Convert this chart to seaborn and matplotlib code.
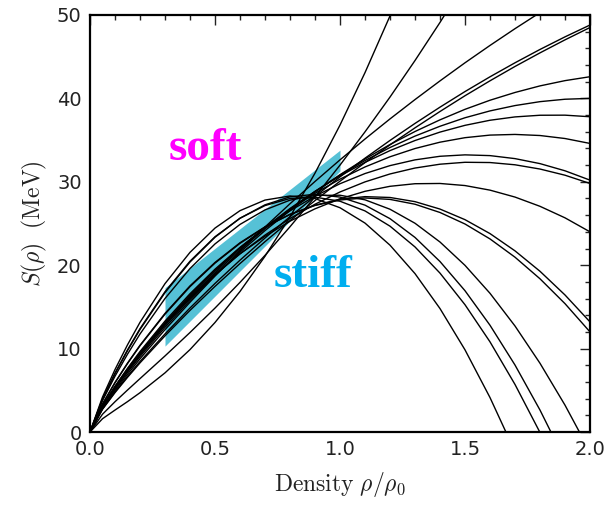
import numpy as np
import pandas as pd
import matplotlib
matplotlib.use("Agg")
import matplotlib.pyplot as plt
import seaborn as sns
from matplotlib.ticker import MultipleLocator, FormatStrFormatter

# density grid (rho/rho0)
rho = [0, 0.05, 0.1, 0.15, 0.2, 0.3, 0.4, 0.5, 0.6, 0.7, 0.8, 0.9, 1.0,
       1.1, 1.2, 1.3, 1.4, 1.5, 1.6, 1.7, 1.8, 1.9, 2.0]

# symmetry-energy curves S(rho) in MeV
curve_A = [0, 1.59, 2.63, 3.64, 4.71, 7.09, 9.88, 13.13, 16.85, 21.07, 25.8, 31.04, 36.8, 43.09, 49.89, 57.23, 65.1, 73.5, 82.4, 91.9, 101.9, 112.45, 123.5]
curve_T2 = [0, 2.13, 3.63, 5.03, 6.40, 9.12, 11.93, 14.86, 17.94, 21.18, 24.61, 28.2, 32.0, 35.99, 40.16, 44.54, 49.11, 53.9, 58.9, 64.06, 69.45, 75.06, 80.86]
curve_T3 = [0, 2.84, 4.97, 6.92, 8.78, 12.27, 15.56, 18.70, 21.70, 24.58, 27.37, 30.04, 32.63, 35.13, 37.54, 39.86, 42.10, 44.27, 46.35, 48.36, 50.29, 52.15, 53.9]
curve_R1a = [0, 2.76, 4.81, 6.68, 8.45, 11.76, 14.87, 17.81, 20.6, 23.26, 25.82, 28.25, 30.59, 32.83, 34.96, 37.0, 38.95, 40.82, 42.59, 44.27, 45.87, 47.38, 48.8]
curve_R1b = [0, 2.72, 4.72, 6.55, 8.29, 11.53, 14.58, 17.46, 20.2, 22.82, 25.34, 27.75, 30.07, 32.3, 34.43, 36.47, 38.43, 40.32, 42.11, 43.83, 45.46, 47.02, 48.5]
curve_R2 = [0, 2.93, 5.14, 7.15, 9.04, 12.55, 15.78, 18.78, 21.56, 24.15, 26.56, 28.79, 30.85, 32.74, 34.47, 36.03, 37.43, 38.69, 39.78, 40.71, 41.5, 42.13, 42.6]
curve_R3 = [0, 2.99, 5.24, 7.3, 9.23, 12.79, 16.06, 19.06, 21.83, 24.37, 26.72, 28.85, 30.8, 32.55, 34.11, 35.48, 36.66, 37.68, 38.5, 39.14, 39.61, 39.9, 40.0]
curve_R4 = [0, 3.03, 5.32, 7.41, 9.37, 12.97, 16.26, 19.26, 22.01, 24.51, 26.8, 28.85, 30.7, 32.33, 33.74, 34.95, 35.96, 36.77, 37.38, 37.78, 37.98, 37.99, 37.8]
curve_R5 = [0, 3.07, 5.4, 7.51, 9.49, 13.12, 16.4, 19.38, 22.08, 24.5, 26.69, 28.62, 30.32, 31.78, 33.0, 33.99, 34.75, 35.29, 35.6, 35.68, 35.55, 35.19, 34.6]
curve_R6 = [0, 3.12, 5.49, 7.64, 9.65, 13.3, 16.58, 19.52, 22.14, 24.47, 26.52, 28.28, 29.77, 30.99, 31.94, 32.63, 33.06, 33.23, 33.14, 32.78, 32.18, 31.32, 30.2]
curve_R7 = [0, 3.03, 5.32, 7.39, 9.32, 12.84, 15.99, 18.83, 21.36, 23.61, 25.6, 27.31, 28.78, 29.99, 30.94, 31.65, 32.11, 32.34, 32.31, 32.04, 31.53, 30.79, 29.8]
curve_R8 = [0, 3.09, 5.42, 7.53, 9.49, 13.03, 16.17, 18.94, 21.37, 23.47, 25.28, 26.76, 27.96, 28.86, 29.46, 29.77, 29.8, 29.55, 29.0, 28.17, 27.06, 25.68, 24.0]
curve_R9 = [0, 3.34, 5.9, 8.2, 10.34, 14.13, 17.43, 20.25, 22.62, 24.56, 26.09, 27.2, 27.91, 28.22, 28.12, 27.62, 26.73, 25.46, 23.79, 21.72, 19.27, 16.43, 13.2]
curve_R10 = [0, 3.36, 5.94, 8.26, 10.4, 14.22, 17.52, 20.33, 22.69, 24.6, 26.1, 27.16, 27.82, 28.06, 27.89, 27.31, 26.32, 24.94, 23.15, 20.96, 18.37, 15.39, 12.0]
curve_B1 = [0, 4.19, 7.49, 10.45, 13.15, 17.79, 21.54, 24.45, 26.54, 27.81, 28.3, 27.99, 26.89, 25.05, 22.4, 18.99, 14.8, 9.85, 4.13, -2.36, -9.62, -17.63, -26.42]
curve_B2 = [0, 3.95, 7.06, 9.84, 12.39, 16.82, 20.48, 23.41, 25.63, 27.15, 28.0, 28.16, 27.67, 26.51, 24.68, 22.19, 19.05, 15.26, 10.81, 5.7, -0.06, -6.46, -13.52]
curve_B3 = [0, 3.92, 7.0, 9.76, 12.29, 16.71, 20.38, 23.35, 25.63, 27.24, 28.2, 28.5, 28.17, 27.2, 25.58, 23.33, 20.44, 16.94, 12.8, 8.03, 2.63, -3.39, -10.04]
curve_B4 = [0, 3.76, 6.69, 9.33, 11.75, 16.01, 19.6, 22.55, 24.89, 26.63, 27.8, 28.37, 28.39, 27.84, 26.71, 25.03, 22.78, 19.98, 16.63, 12.71, 8.24, 3.22, -2.36]

# constraint band (cyan)
band_x = [0.3, 1.0]
band_lo = [10.3, 31.3]
band_hi = [17.3, 33.8]

curves = {
    "A": curve_A, "T2": curve_T2, "T3": curve_T3, "R1a": curve_R1a, "R1b": curve_R1b,
    "R2": curve_R2, "R3": curve_R3, "R4": curve_R4, "R5": curve_R5, "R6": curve_R6,
    "R7": curve_R7, "R8": curve_R8, "R9": curve_R9, "R10": curve_R10,
    "B1": curve_B1, "B2": curve_B2, "B3": curve_B3, "B4": curve_B4,
}

df = pd.concat(
    [pd.DataFrame({"rho": rho, "S": vals, "curve": name}) for name, vals in curves.items()],
    ignore_index=True,
)

sns.set_theme(style="white")
plt.rcParams["font.family"] = ["DejaVu Sans"]
plt.rcParams["mathtext.fontset"] = "cm"

fig = plt.figure(figsize=(6.06, 5.05), dpi=100)
ax = fig.add_axes([90 / 606, 73 / 505, 500 / 606, 417 / 505])

ax.fill_between(band_x, band_lo, band_hi, color="#56c1d6", lw=0, zorder=1)
sns.lineplot(data=df, x="rho", y="S", units="curve", estimator=None, sort=False,
             color="black", lw=1.0, ax=ax, legend=False, zorder=2)

ax.set_xlim(0, 2.0)
ax.set_ylim(0, 50)
ax.xaxis.set_major_locator(MultipleLocator(0.5))
ax.xaxis.set_minor_locator(MultipleLocator(0.1))
ax.yaxis.set_major_locator(MultipleLocator(10))
ax.yaxis.set_minor_locator(MultipleLocator(2))
ax.xaxis.set_major_formatter(FormatStrFormatter("%.1f"))
ax.yaxis.set_major_formatter(FormatStrFormatter("%d"))
ax.tick_params(which="both", direction="in", top=True, right=True, colors="#222222",
               labelsize=14, width=1.0)
ax.tick_params(which="major", length=7, pad=6)
ax.tick_params(which="minor", length=3.5)
for sp in ax.spines.values():
    sp.set_color("black")
    sp.set_linewidth(1.6)

ax.set_xlabel(r"$\mathrm{Density}\ \rho/\rho_0$", fontsize=17, color="#222222", labelpad=8)
ax.set_ylabel(r"$S(\rho)\ \ (\mathrm{MeV})$", fontsize=17, color="#222222", labelpad=6)

ax.text(0.46, 32.6, "soft", color="#ff00ff", fontsize=34, fontweight="bold",
        family=["Liberation Serif", "DejaVu Serif"], ha="center", va="baseline", zorder=5)
ax.text(0.893, 17.4, "stiff", color="#00aeef", fontsize=34, fontweight="bold",
        family=["Liberation Serif", "DejaVu Serif"], ha="center", va="baseline", zorder=5)

fig.savefig("out.png", dpi=100)
